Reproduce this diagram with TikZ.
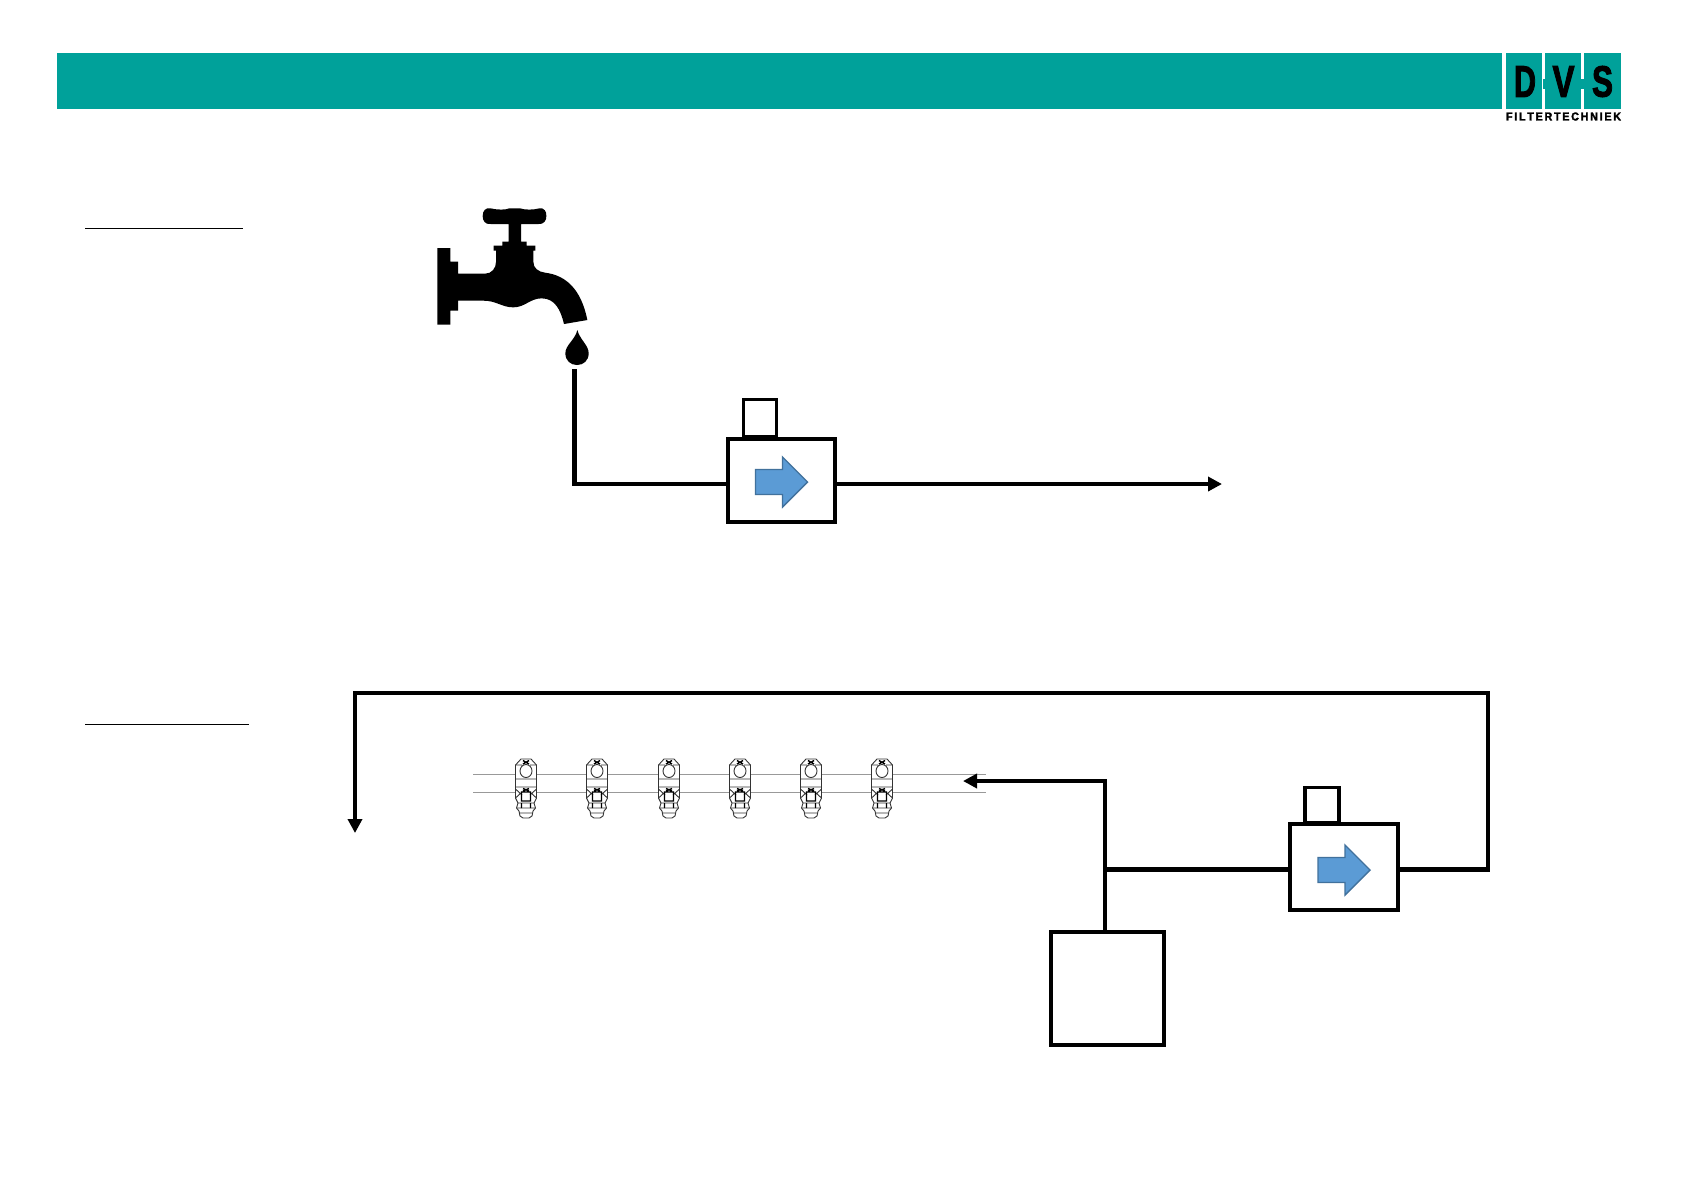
\documentclass[tikz,border=0pt]{standalone}
\usepackage{fontspec}
\usepackage{graphicx}
\setmainfont{Liberation Sans}
\newfontfamily\logofont[FakeBold=2.5]{Liberation Sans Bold}
\usetikzlibrary{arrows.meta,positioning,calc}
\definecolor{banner}{HTML}{00A19A}
\definecolor{flowblue}{HTML}{5B9BD5}
\definecolor{flowedge}{HTML}{41719C}
\newcommand{\logotext}[3]{\resizebox{#1}{#2}{\logofont #3}}

\tikzset{
  pipe/.style={line width=2.4pt, draw=black},
  flow/.style={pipe, -{Triangle[length=7pt,width=7pt]}},
  unit/.style={draw=black, line width=2pt, fill=white, inner sep=0pt,
               minimum width=#1},
  heading/.style={line width=0.5pt, draw=black},
  branch/.style={line width=0.5pt, draw=black!40},
  logotile/.style={fill=banner, draw=none, inner sep=0pt},
  logotype/.style={inner sep=0pt, outer sep=0pt, text=black},
  pics/flowmark/.style={code={
    \draw[fill=flowblue, draw=flowedge, line width=0.7pt]
      (-26,-12.5) -- (1,-12.5) -- (1,-25) -- (26,0) -- (1,25) -- (1,12.5)
      -- (-26,12.5) -- cycle;
  }},
  pics/valve/.style={code={
    \draw[fill=white, draw=black!80, line width=0.45pt]
      (-5,0) -- (5,0) -- (10.5,6) -- (10.5,39) -- (8,44) -- (9.5,49) -- (7,52)
      -- (6,57) -- (3,59) -- (-3,59) -- (-6,57) -- (-7,52) -- (-9.5,49)
      -- (-8,44) -- (-10.5,39) -- (-10.5,6) -- cycle;
    \draw[draw=black!80, line width=0.45pt]
      (0,12) ellipse[x radius=6, y radius=6.5]
      (-10.5,6) -- (-4,6) (4,6) -- (10.5,6)
      (-10.5,20) -- (10.5,20) (-10.5,28) -- (10.5,28)
      (-10.5,39) -- (-4,33) (10.5,39) -- (4,33)
      (-8,44) -- (8,44) (-9.5,49) -- (9.5,49) (-6,54) -- (6,54)
      (-10.5,30) -- (-4,36) (10.5,30) -- (4,36);
    \draw[draw=black, line width=0.7pt]
      (-3,1.5) -- (3,5) (3,1.5) -- (-3,5)
      (-3,29.5) -- (3,32) (3,29.5) -- (-3,32)
      (-4.5,33) rectangle (4.5,42)
      (-4.5,44) -- (-4.5,49) (4.5,44) -- (4.5,49);
  }},
}

\begin{document}
\begin{tikzpicture}[x=0.5pt, y=-0.5pt]
\useasboundingbox (0,0) rectangle (1684,1191);

% ---------------------------------------------------------------- banner
\fill[banner] (57,53) rectangle (1502,109);

\node[logotile, minimum width=18.2pt, minimum height=28pt] (tileD) at (1524,81) {};
\node[logotile, minimum width=18pt, minimum height=28pt]   (tileV) at (1563,81) {};
\node[logotile, minimum width=18.5pt, minimum height=28pt] (tileS) at (1602.5,81) {};
\fill[banner] (tileD.east |- 0,79) rectangle (tileV.west |- 0,89);
\fill[banner] (tileV.east |- 0,79) rectangle (tileS.west |- 0,89);

\node[logotype] (logoD) at (1525,81.5) {\logotext{11pt}{15.3pt}{D}};
\node[logotype] (logoV) at (1563.5,81.5) {\logotext{11pt}{15.3pt}{V}};
\node[logotype] (logoS) at (1602.5,81.5) {\logotext{10.5pt}{15.3pt}{S}};
\node[logotype] (logoname) at (1563.5,116.5)
  {\logotext{57.5pt}{4pt}{F\,I\,L\,T\,E\,R\,T\,E\,C\,H\,N\,I\,E\,K}};

% ---------------------------------------------------------------- headings
\draw[heading] (85,228) -- (243,228);
\draw[heading] (85,724) -- (249,724);

% ---------------------------------------------------------------- tap
\begin{scope}[shift={(420,190)}, x=0.16667pt, y=-0.16667pt]
\fill[black]
  (52,174) -- (91,174) -- (91,215) -- (114,215) -- (114,251) -- (195,251)
  .. controls (215,251) and (228,235) .. (228,215) -- (228,182) -- (221,182)
  -- (221,167) -- (247,167) -- (247,155) -- (266,155) -- (266,102) -- (212,102)
  .. controls (195,104) and (188,92) .. (188,78)
  .. controls (188,62) and (197,52) .. (212,55)
  .. controls (235,60) and (255,60) .. (268,55) -- (300,55)
  .. controls (315,60) and (340,60) .. (358,55)
  .. controls (372,52) and (380,65) .. (379,78)
  .. controls (380,92) and (370,104) .. (355,102)
  -- (303,102) -- (303,155) -- (320,155) -- (320,167) -- (346,167)
  -- (346,182) -- (340,182) -- (340,215)
  .. controls (340,235) and (355,245) .. (375,248)
  .. controls (440,256) and (484,300) .. (502,390)
  -- (432,402)
  .. controls (422,360) and (405,325) .. (365,325)
  .. controls (330,325) and (315,352) .. (280,352)
  .. controls (245,352) and (230,332) .. (190,332)
  -- (114,332) -- (114,362) -- (91,362) -- (91,404) -- (52,404) -- cycle;
\fill[black]
  (472,420) .. controls (465,450) and (436,465) .. (436,490)
  .. controls (436,512) and (452,525) .. (471,525)
  .. controls (490,525) and (506,512) .. (506,490)
  .. controls (506,465) and (480,450) .. (472,420) -- cycle;
\end{scope}

% ---------------------------------------------------------------- upper line
\node[unit=53.5pt, minimum height=41.5pt] (filterA) at (781.5,480) {};
\node[draw=black, line width=1.8pt, inner sep=0pt, minimum width=16.5pt,
      minimum height=18.5pt, above=-0.9pt of filterA.north, xshift=-10.8pt] (headA) {};
\pic at (781.5,482) {flowmark};

\coordinate (dropend) at (574.5,369);
\coordinate (bendA) at (574.5,484);
\coordinate (endA) at (1222,484);
\draw[pipe] (dropend) -- (bendA) -- (filterA.west |- bendA);
\draw[flow] (filterA.east |- bendA) -- (endA);

% ---------------------------------------------------------------- lower line
\foreach \ya in {774,792}
  \draw[branch] (473,\ya) -- (986,\ya);
\foreach \vx in {526,597,669,740,811,882}
  \pic at (\vx,759) {valve};

\node[unit=56.5pt, minimum height=56.5pt] (tank) at (1107.5,988.5) {};
\node[unit=53.8pt, minimum height=42.8pt] (filterB) at (1344.2,867.2) {};
\node[draw=black, line width=1.8pt, inner sep=0pt, minimum width=17pt,
      minimum height=17.5pt, above=-0.9pt of filterB.north, xshift=-11pt] (headB) {};
\pic at (1344,870) {flowmark};

\coordinate (tee) at (1105,869.5);
\coordinate (turn) at (1105,781);
\coordinate (feed) at (963,781);
\coordinate (cornerR) at (1488,869.5);
\coordinate (cornerT) at (1488,693);
\coordinate (cornerL) at (355,693);
\coordinate (returnend) at (355,833);

\draw[pipe] (tank.north -| tee) -- (tee);
\draw[flow] (tee) -- (turn) -- (feed);
\draw[pipe] (filterB.west |- tee) -- (tee);
\draw[flow] (filterB.east |- cornerR) -- (cornerR) -- (cornerT) -- (cornerL) -- (returnend);

\end{tikzpicture}
\end{document}
